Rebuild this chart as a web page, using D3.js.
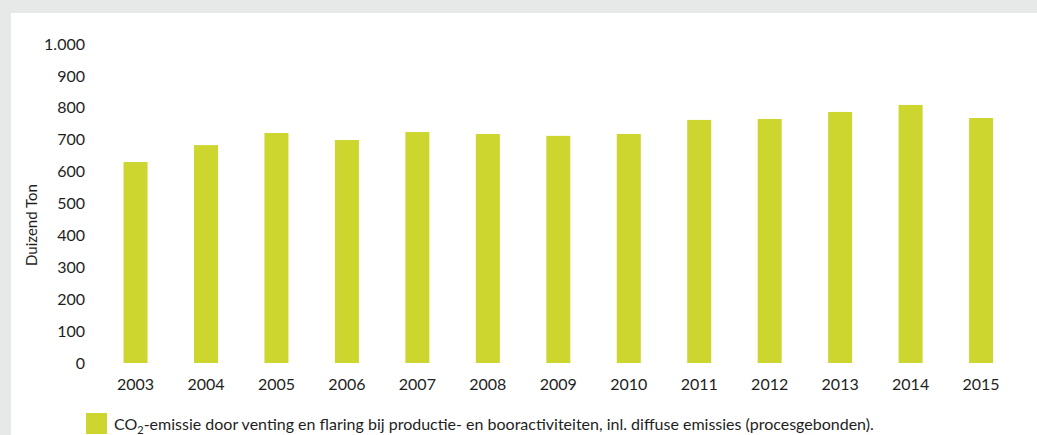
<!DOCTYPE html>
<html>
<head>
<meta charset="utf-8">
<script src="https://cdn.jsdelivr.net/npm/d3@7"></script>
<style>
  html, body { margin: 0; padding: 0; background: #e6e9e8; }
  svg { display: block; }
  text { font-family: Lato, "Open Sans", sans-serif; fill: #1e1e1e; }
</style>
</head>
<body>
<svg id="chart" width="1037" height="435"></svg>
<script>
// Annual CO2 emission from venting and flaring (thousand tonnes)
const years = ["2003","2004","2005","2006","2007","2008","2009","2010","2011","2012","2013","2014","2015"];
const emissions = [630, 683, 721, 699, 724, 718, 712, 718, 762, 765, 787, 809, 768];
const yTicks = [0, 100, 200, 300, 400, 500, 600, 700, 800, 900, 1000];
const yTitle = "Duizend Ton";
const legendLabel = ["CO", "2", "-emissie door venting en flaring bij productie- en booractiviteiten, inl. diffuse emissies (procesgebonden)."];

const svg = d3.select("#chart");
const W = 1037, H = 435;
const barColor = "#cdd62f";

// white panel
svg.append("rect").attr("x", 11).attr("y", 13).attr("width", W - 11).attr("height", H - 13).attr("fill", "#ffffff");

const x = d3.scaleBand().domain(years).range([100.3, 1016.3]).paddingInner(0.66).paddingOuter(0.33);
const y = d3.scaleLinear().domain([0, 1000]).range([363, 44]);

const fmt = d => d3.format(",")(d).replace(/,/g, ".");

// y axis labels
const yAxis = svg.append("g").attr("transform", "translate(85,0)")
  .call(d3.axisLeft(y).tickValues(yTicks).tickFormat(fmt).tickSize(0).tickPadding(0));
yAxis.select(".domain").remove();
yAxis.selectAll("text").attr("font-size", 16).attr("font-family", "Lato, sans-serif").attr("fill", "#1e1e1e");

// bars
svg.append("g").selectAll("rect").data(years).join("rect")
  .attr("x", d => x(d) + x.bandwidth() / 2 - 12)
  .attr("width", 24)
  .attr("y", (d, i) => y(emissions[i]))
  .attr("height", (d, i) => y(0) - y(emissions[i]))
  .attr("fill", barColor);

// x axis labels
const xAxis = svg.append("g").attr("transform", "translate(0,363)")
  .call(d3.axisBottom(x).tickSize(0).tickPadding(16));
xAxis.select(".domain").remove();
xAxis.selectAll("text").attr("font-size", 16).attr("font-family", "Lato, sans-serif").attr("fill", "#1e1e1e");

// y axis title
svg.append("text")
  .attr("transform", "translate(37,225) rotate(-90)")
  .attr("text-anchor", "middle")
  .attr("font-size", 15)
  .text(yTitle);

// legend
svg.append("rect").attr("x", 86).attr("y", 413).attr("width", 21).attr("height", 21).attr("fill", barColor);
const lt = svg.append("text").attr("x", 114).attr("y", 430).attr("font-size", 16);
lt.append("tspan").text(legendLabel[0]);
lt.append("tspan").attr("font-size", 11).attr("dy", 4).text(legendLabel[1]);
lt.append("tspan").attr("dy", -4).text(legendLabel[2]);
</script>
</body>
</html>
